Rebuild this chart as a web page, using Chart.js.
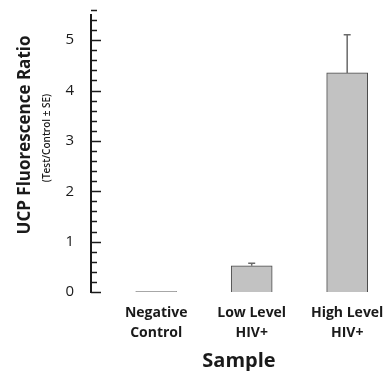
<!DOCTYPE html>
<html>
<head>
<meta charset="utf-8">
<script src="https://cdn.jsdelivr.net/npm/chart.js@4"></script>
<style>
  html, body { margin: 0; padding: 0; background: #fff; }
  #wrap { width: 387px; height: 371px; position: relative; }
</style>
</head>
<body>
<div id="wrap"><canvas id="chart"></canvas></div>
<script>
// data
const categories = [['Negative', 'Control'], ['Low Level', 'HIV+'], ['High Level', 'HIV+']];
const ratios = [0.01, 0.52, 4.35];
const errors = [0.005, 0.05, 0.76];
const yTicks = [0, 1, 2, 3, 4, 5];
const minorStep = 0.2;

const FONT = '"Open Sans", "Noto Sans", sans-serif';
const INK = '#1a1a1a';

// vertical error bars, upward only, with a cap
const errorBars = {
  id: 'errorBars',
  afterDatasetsDraw(chart) {
    const { ctx, scales: { x, y } } = chart;
    ctx.save();
    ctx.strokeStyle = '#6a6a6a';
    ctx.lineWidth = 1.5;
    ratios.forEach((v, i) => {
      if (errors[i] < 0.02) return;
      const px = x.getPixelForValue(i);
      const top = y.getPixelForValue(v + errors[i]);
      ctx.beginPath();
      ctx.moveTo(px, y.getPixelForValue(v));
      ctx.lineTo(px, top);
      ctx.moveTo(px - 3.5, top);
      ctx.lineTo(px + 3.5, top);
      ctx.stroke();
    });
    ctx.restore();
  }
};

// inward major/minor ticks on the y axis plus the axis titles
const axisDecor = {
  id: 'axisDecor',
  afterDraw(chart) {
    const { ctx, chartArea, scales: { y } } = chart;
    ctx.save();
    ctx.strokeStyle = INK;
    ctx.lineWidth = 1.5;
    const n = Math.round(y.max / minorStep);
    for (let k = 0; k <= n; k++) {
      const v = k * minorStep;
      const py = Math.round(y.getPixelForValue(v)) + 0.5;
      const len = (k % 5 === 0) ? 10 : 6;
      ctx.beginPath();
      ctx.moveTo(chartArea.left, py);
      ctx.lineTo(chartArea.left + len, py);
      ctx.stroke();
    }
    const cy = 135;
    ctx.fillStyle = INK;
    ctx.textAlign = 'center';
    ctx.textBaseline = 'middle';
    ctx.translate(25, cy);
    ctx.rotate(-Math.PI / 2);
    ctx.font = 'bold 17px ' + FONT;
    ctx.fillText('UCP Fluorescence Ratio', 0, 0);
    ctx.font = '600 10px ' + FONT;
    ctx.fillText('(Test/Control \u00b1 SE)', -3, 22);
    ctx.restore();
  }
};

new Chart(document.getElementById('chart'), {
  type: 'bar',
  data: {
    datasets: [{
      data: ratios.map((v, i) => ({ x: i, y: v })),
      backgroundColor: '#c2c2c2',
      borderColor: '#4a4a4a',
      borderWidth: 1,
      barThickness: 41
    }]
  },
  options: {
    responsive: true,
    maintainAspectRatio: false,
    animation: false,
    layout: { padding: { top: 15, left: 0, right: 0, bottom: 0 } },
    plugins: {
      legend: { display: false },
      tooltip: { enabled: false }
    },
    scales: {
      x: {
        type: 'linear',
        min: -0.683,
        max: 2.417,
        offset: false,
        grid: { display: false, offset: false },
        border: { display: false },
        afterBuildTicks: s => { s.ticks = categories.map((_, i) => ({ value: i })); },
        afterFit: s => { s.height = 79; s.paddingLeft = 0; s.paddingRight = 0; },
        ticks: {
          autoSkip: false,
          maxRotation: 0,
          padding: 3,
          color: INK,
          font: { family: FONT, size: 14, weight: 'bold', lineHeight: 1.43 },
          callback: v => categories[v] || ''
        },
        title: {
          display: true,
          text: 'Sample',
          color: INK,
          padding: { top: 4, bottom: 0 },
          font: { family: FONT, size: 20, weight: 'bold', lineHeight: 1 }
        }
      },
      y: {
        min: 0,
        max: 5.5,
        grid: { display: false, drawTicks: false },
        border: { display: true, color: INK, width: 2 },
        afterBuildTicks: s => { s.ticks = yTicks.map(v => ({ value: v })); },
        afterFit: s => { s.width = 91; s.paddingTop = 0; s.paddingBottom = 0; },
        ticks: {
          padding: 17,
          color: INK,
          font: { family: FONT, size: 15 }
        }
      }
    }
  },
  plugins: [errorBars, axisDecor]
});
</script>
</body>
</html>
